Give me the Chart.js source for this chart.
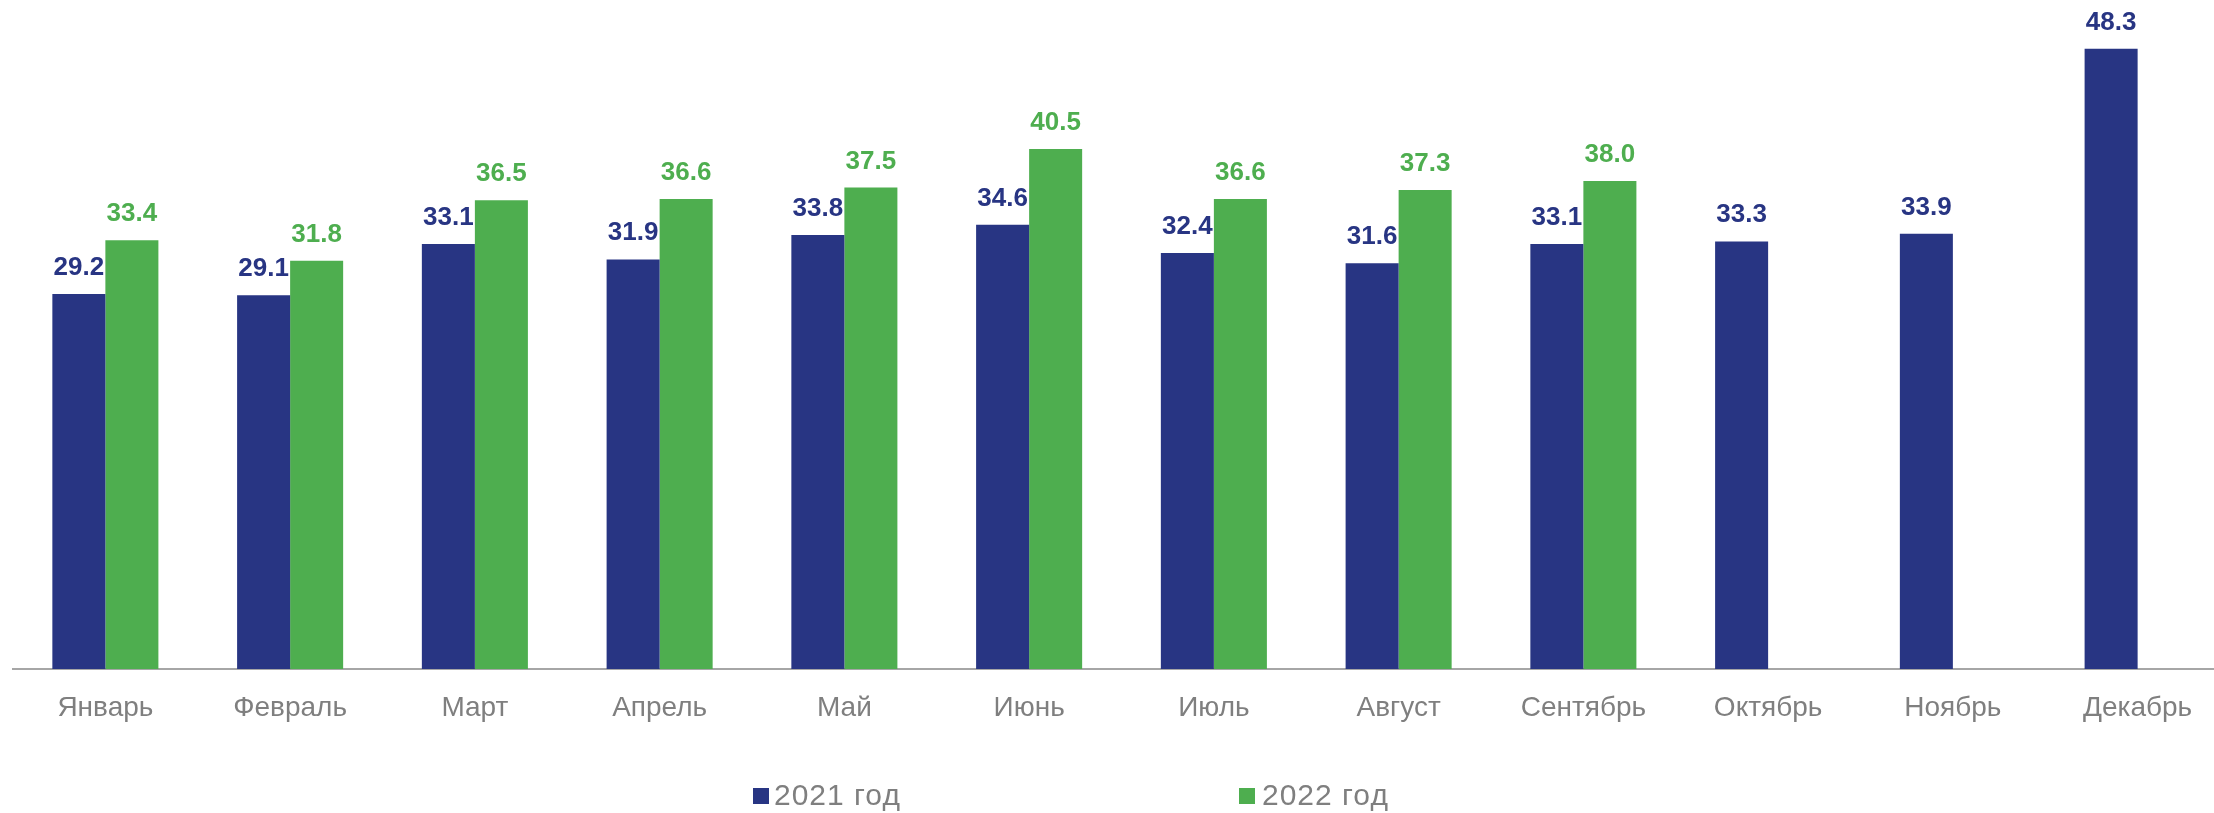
<!DOCTYPE html>
<html lang="ru">
<head>
<meta charset="utf-8">
<title>2021 / 2022</title>
<script src="https://cdn.jsdelivr.net/npm/chart.js@4"></script>
<style>
    html, body {
        margin: 0;
        padding: 0;
        background: #ffffff;
        overflow: hidden;
    }
    .wrap {
        position: relative;
        width: 2214px;
        height: 813px;
        overflow: hidden;
    }
    .legend-box {
        position: absolute;
        top: 788px;
        width: 16px;
        height: 16px;
    }
    .legend-text {
        position: absolute;
        top: 780px;
        font-family: "Liberation Sans", Arial, sans-serif;
        font-size: 30px;
        line-height: 30px;
        letter-spacing: 1px;
        color: #7f7f7f;
        white-space: nowrap;
    }
</style>
</head>
<body>
<div class="wrap">
    <canvas id="monthChart" width="2230" height="813"></canvas>
    <div class="legend-box" style="left:753px;background:#283583"></div>
    <div class="legend-text" style="left:774px">2021 год</div>
    <div class="legend-box" style="left:1239px;background:#4eae4f"></div>
    <div class="legend-text" style="left:1262px">2022 год</div>
</div>
<script>
// Данные
const months = ["Январь", "Февраль", "Март", "Апрель", "Май", "Июнь", "Июль", "Август", "Сентябрь", "Октябрь", "Ноябрь", "Декабрь"];
const values2021 = [29.2, 29.1, 33.1, 31.9, 33.8, 34.6, 32.4, 31.6, 33.1, 33.3, 33.9, 48.3];
const values2022 = [33.4, 31.8, 36.5, 36.6, 37.5, 40.5, 36.6, 37.3, 38.0, null, null, null];
const yMin = 0;
const yMax = 50;

const blue = "#283583";
const green = "#4eae4f";
const fontFamily = "'Liberation Sans', Arial, sans-serif";

// Подписи значений над столбцами
const valueLabels = {
    id: "valueLabels",
    afterDatasetsDraw(chart) {
        const ctx = chart.ctx;
        ctx.save();
        ctx.font = "bold 26px " + fontFamily;
        ctx.textAlign = "center";
        ctx.textBaseline = "alphabetic";
        chart.data.datasets.forEach((ds, i) => {
            const meta = chart.getDatasetMeta(i);
            meta.data.forEach((bar, j) => {
                const v = ds.data[j];
                if (v === null || v === undefined) return;
                ctx.fillStyle = ds.backgroundColor;
                ctx.fillText(v.toFixed(1), bar.x, bar.y - 19);
            });
        });
        ctx.restore();
    },
};

new Chart(document.getElementById("monthChart").getContext("2d"), {
    type: "bar",
    data: {
        labels: months,
        datasets: [
            {
                label: "2021 год",
                data: values2021,
                backgroundColor: blue,
                categoryPercentage: 0.574,
                barPercentage: 1,
            },
            {
                label: "2022 год",
                data: values2022,
                backgroundColor: green,
                categoryPercentage: 0.574,
                barPercentage: 1,
            },
        ],
    },
    options: {
        responsive: false,
        animation: false,
        devicePixelRatio: 1,
        layout: {
            padding: { top: 27, left: 13, right: 0, bottom: 0 },
        },
        scales: {
            x: {
                grid: { display: false, drawTicks: false },
                border: { display: true, color: "#a6a6a6", width: 2 },
                ticks: {
                    color: "#7f7f7f",
                    padding: 22,
                    maxRotation: 0,
                    font: { family: fontFamily, size: 28 },
                },
                afterFit(scale) {
                    scale.height = 144; // место под подписи месяцев и легенду
                },
            },
            y: {
                display: false,
                min: yMin,
                max: yMax,
            },
        },
        plugins: {
            legend: { display: false },
            tooltip: { enabled: false },
        },
    },
    plugins: [valueLabels],
});
</script>
</body>
</html>
